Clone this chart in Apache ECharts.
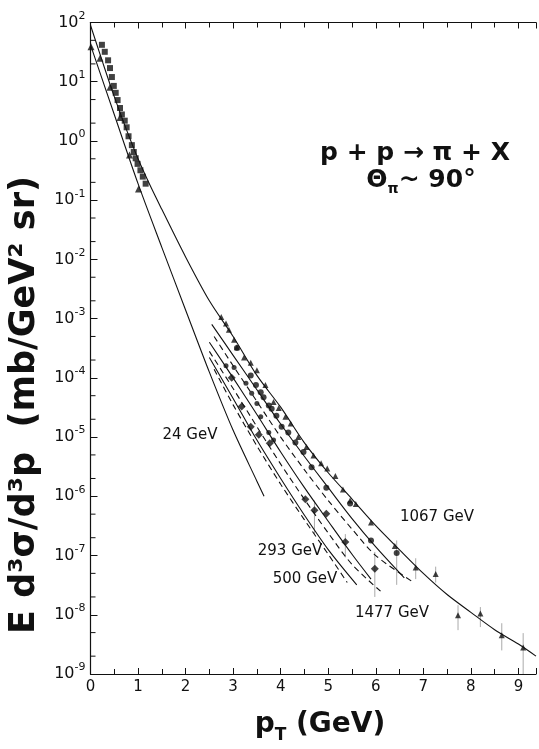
<!DOCTYPE html>
<html>
<head>
<meta charset="utf-8">
<script src="https://cdn.jsdelivr.net/npm/echarts@6/dist/echarts.min.js"></script>
<style>
  html, body { margin: 0; padding: 0; background: #fff; }
  #chart { width: 539px; height: 749px; }
</style>
</head>
<body>
<div id="chart"></div>
<script>
// p_T in GeV, invariant cross section in mb/GeV^2 sr
const fitHigh = [[0, 90], [0.25, 22], [0.5, 5.6], [0.75, 1.6], [1.0, 0.5], [1.25, 0.18], [1.5, 0.07],
  [2.0, 1.1e-2], [2.5, 2.0e-3], [3.0, 5.0e-4], [3.5, 1.1e-4], [4.0, 3.2e-5], [4.5, 8.0e-6],
  [5.0, 2.5e-6], [5.5, 9.0e-7], [6.0, 3.2e-7], [6.5, 1.25e-7], [7.0, 5.0e-8], [7.5, 2.2e-8],
  [8.0, 1.1e-8], [8.5, 5.6e-9], [9.0, 3.2e-9], [9.37, 2.0e-9]];
const fit24 = [[0, 42], [0.5, 2.8], [1.0, 0.19], [1.5, 1.6e-2], [2.0, 1.4e-3], [2.5, 1.25e-4],
  [3.0, 1.3e-5], [3.5, 1.8e-6], [3.65, 1.0e-6]];
const fitB = [[2.55, 8e-4], [3.0, 2.4e-4], [3.5, 6.3e-5], [4.0, 1.66e-5], [4.5, 4.7e-6], [5.0, 1.4e-6], [5.5, 4.2e-7], [6.0, 1.4e-7], [6.6, 4.2e-8]];
const fitC = [[2.6, 5e-4], [3.0, 1.6e-4], [3.5, 4.0e-5], [4.0, 1.0e-5], [4.5, 2.8e-6], [5.0, 8.5e-7], [5.5, 2.8e-7], [6.0, 1.0e-7], [6.8, 3.5e-8]];
const fitD = [[2.5, 4.0e-4], [3.0, 1.0e-4], [3.5, 2.4e-5], [4.0, 5.6e-6], [4.5, 1.4e-6], [5.0, 3.8e-7], [5.5, 1.05e-7], [5.9, 4.0e-8]];
const fitE = [[2.5, 2.8e-4], [3.0, 6.6e-5], [3.5, 1.5e-5], [4.0, 3.5e-6], [4.5, 8.9e-7], [5.0, 2.4e-7], [5.5, 7.1e-8], [6.1, 2.5e-8]];
const fitF = [[2.5, 2.2e-4], [3.0, 4.5e-5], [3.5, 8.9e-6], [4.0, 2.0e-6], [4.5, 4.8e-7], [5.0, 1.26e-7], [5.6, 3.2e-8]];
const fitG = [[2.6, 1.4e-4], [3.0, 3.5e-5], [3.5, 7.1e-6], [4.0, 1.6e-6], [4.5, 4.0e-7], [5.0, 1.05e-7], [5.4, 3.5e-8]];

const squaresLow = [[0.24, 42], [0.30, 32], [0.37, 23], [0.41, 17], [0.45, 12], [0.49, 8.5], [0.53, 6.5],
  [0.57, 4.9], [0.62, 3.6], [0.66, 2.8], [0.72, 2.2], [0.76, 1.7], [0.80, 1.2], [0.87, 0.85],
  [0.91, 0.65], [0.95, 0.51], [0.99, 0.41], [1.05, 0.32], [1.10, 0.25], [1.16, 0.19]];
const triangles24 = [[0.01, 39], [0.2, 25], [0.41, 8.1], [0.62, 2.5], [0.82, 0.58], [1.01, 0.155]];
const triUpper = [[2.75, 1.07e-3], [2.85, 8.3e-4], [2.91, 6.5e-4], [3.02, 4.4e-4], [3.08, 3.3e-4],
  [3.23, 2.2e-4], [3.37, 1.8e-4], [3.50, 1.35e-4], [3.68, 7.6e-5], [3.85, 3.9e-5], [3.96, 3.1e-5],
  [4.10, 2.2e-5], [4.21, 1.7e-5], [4.37, 1.0e-5], [4.54, 6.8e-6], [4.69, 4.9e-6], [4.85, 3.6e-6],
  [4.98, 2.95e-6], [5.15, 2.2e-6], [5.31, 1.3e-6], [5.46, 8.5e-7], [5.58, 7.4e-7], [5.9, 3.6e-7],
  [6.4, 1.45e-7], [6.84, 6.3e-8]];
const circles = [[3.08, 3.2e-4], [3.37, 1.1e-4], [3.48, 7.6e-5], [3.58, 5.7e-5], [3.64, 4.7e-5],
  [3.75, 3.4e-5], [3.81, 3.0e-5], [3.91, 2.3e-5], [4.02, 1.5e-5], [4.16, 1.2e-5], [4.31, 8.1e-6],
  [4.48, 5.6e-6], [4.65, 3.1e-6], [4.96, 1.4e-6], [5.46, 7.6e-7], [5.9, 1.8e-7], [6.44, 1.1e-7]];
const circlesLow = [[2.85, 1.6e-4], [3.02, 1.5e-4], [3.27, 8.1e-5], [3.39, 5.5e-5], [3.50, 3.7e-5],
  [3.58, 2.2e-5], [3.75, 1.2e-5], [3.85, 8.9e-6]];
const diamonds = [[2.97, 1.0e-4], [3.18, 3.3e-5], [3.37, 1.5e-5], [3.54, 1.1e-5], [3.77, 7.9e-6],
  [4.52, 8.9e-7], [4.71, 5.8e-7], [4.96, 5.1e-7], [5.36, 1.7e-7], [5.98, 6.0e-8]];
const triHigh = [[7.26, 4.9e-8], [7.73, 9.8e-9], [8.2, 1.05e-8], [8.65, 4.5e-9], [9.1, 2.8e-9]];
// vertical error bars: [p_T, low, high]
const errBars = [[4.71, 2.3e-7, 8.5e-7], [5.36, 9.3e-8, 2.3e-7], [5.98, 2.0e-8, 1.15e-7],
  [6.44, 3.2e-8, 1.8e-7], [6.84, 4.0e-8, 9.0e-8], [7.26, 3.5e-8, 6.5e-8], [7.73, 5.5e-9, 1.45e-8],
  [8.2, 6.2e-9, 1.35e-8], [8.65, 2.5e-9, 7.2e-9], [9.1, 1.0e-9, 4.9e-9]];

const decades = [-9, -8, -7, -6, -5, -4, -3, -2, -1, 0, 1, 2];

const lg = arr => arr.map(p => [p[0], Math.log10(p[1])]);
const lgErr = arr => arr.map(p => [p[0], Math.log10(p[1]), Math.log10(p[2])]);

// minor ticks at 2 and 5 of every decade
const minorTicks = [];
decades.forEach(d => { if (d < 2) { minorTicks.push([0, d + Math.log10(2)], [0, d + Math.log10(5)]); } });

const chart = echarts.init(document.getElementById('chart'));
const FONT = 'DejaVu Sans';
const INK = '#111';

function line(data, dashed) {
  return {
    type: 'line', data: lg(data), showSymbol: false, smooth: 0.3, silent: true,
    lineStyle: { color: INK, width: 1.1, type: dashed ? [6, 4] : 'solid' }
  };
}
function dots(data, symbol, size, rotate) {
  return {
    type: 'scatter', data: lg(data), symbol: symbol, symbolSize: size, symbolRotate: rotate || 0,
    itemStyle: { color: INK }
  };
}
function label(text, x, y) {
  return { type: 'text', x: x, y: y,
    style: { text: text, font: '15px "DejaVu Sans"', fill: INK, textAlign: 'center', textVerticalAlign: 'middle' } };
}

const xCommon = {
  type: 'value', min: 0, max: 9.37, interval: 1,
  axisLine: { onZero: false, lineStyle: { color: INK, width: 1.2 } },
  axisTick: { inside: true, length: 6, lineStyle: { color: INK } },
  minorTick: { show: true, splitNumber: 2, length: 5, lineStyle: { color: INK } },
  splitLine: { show: false }
};

chart.setOption({
  animation: false,
  backgroundColor: '#fff',
  grid: { left: 90.5, right: 0, top: 22.5, bottom: 75 },
  xAxis: [Object.assign({}, xCommon, {
    position: 'bottom',
    axisLabel: { color: INK, fontFamily: FONT, fontSize: 15, margin: 6,
      formatter: v => (v === Math.round(v) && v <= 9 ? String(v) : '') }
  }), Object.assign({}, xCommon, {
    position: 'top', axisLabel: { show: false }
  })],
  yAxis: {
    type: 'value', min: -9, max: 2, interval: 1,
    axisLine: { show: true, onZero: false, lineStyle: { color: INK, width: 1.2 } },
    axisTick: { show: true, inside: true, length: 7, lineStyle: { color: INK } },
    axisLabel: {
      color: INK, fontFamily: FONT, margin: 5,
      formatter: v => '{b|10}{s|' + String(v) + '}',
      rich: {
        b: { fontSize: 16, lineHeight: 24, fontFamily: FONT, color: INK },
        s: { fontSize: 11, lineHeight: 14, verticalAlign: 'top', fontFamily: FONT, color: INK }
      }
    },
    splitLine: { show: false }
  },
  graphic: [
    { type: 'text', x: 25, y: 405, rotation: Math.PI / 2,
      style: { text: 'E d³σ/d³p  (mb/GeV² sr)', font: 'bold 35px "DejaVu Sans"', fill: INK,
        textAlign: 'center', textVerticalAlign: 'middle' } },
    { type: 'text', x: 320, y: 725,
      style: { text: '{a|p}{t|T}{a| (GeV)}', textAlign: 'center', textVerticalAlign: 'middle',
        rich: { a: { font: 'bold 28px "DejaVu Sans"', fill: INK, lineHeight: 38 },
                t: { font: 'bold 17px "DejaVu Sans"', fill: INK, lineHeight: 17, verticalAlign: 'bottom' } } } },
    { type: 'text', x: 415, y: 153,
      style: { text: 'p + p → π + X', font: 'bold 25px "DejaVu Sans"', fill: INK,
        textAlign: 'center', textVerticalAlign: 'middle' } },
    { type: 'text', x: 421, y: 180,
      style: { text: '{a|Θ}{t|π}{a|~ 90°}', textAlign: 'center', textVerticalAlign: 'middle',
        rich: { a: { font: 'bold 25px "DejaVu Sans"', fill: INK, lineHeight: 32 },
                t: { font: 'bold 14px "DejaVu Sans"', fill: INK, lineHeight: 14, verticalAlign: 'bottom' } } } },
    label('24 GeV', 190, 435),
    label('1067 GeV', 437, 517),
    label('293 GeV', 290, 551),
    label('500 GeV', 305, 579),
    label('1477 GeV', 392, 613)
  ],
  series: [
    {
      type: 'custom', silent: true, data: minorTicks,
      renderItem: (params, api) => {
        const p = api.coord([api.value(0), api.value(1)]);
        return { type: 'line', shape: { x1: p[0], y1: p[1], x2: p[0] + 5, y2: p[1] },
          style: { stroke: INK, lineWidth: 1 } };
      }
    },
    {
      type: 'custom', silent: true, data: lgErr(errBars),
      renderItem: (params, api) => {
        const lo = api.coord([api.value(0), api.value(1)]);
        const hi = api.coord([api.value(0), api.value(2)]);
        return { type: 'line', shape: { x1: lo[0], y1: lo[1], x2: hi[0], y2: hi[1] },
          style: { stroke: '#aaa', lineWidth: 1 } };
      }
    },
    line(fitHigh, false),
    line(fit24, false),
    line(fitB, false),
    line(fitC, true),
    line(fitD, false),
    line(fitE, true),
    line(fitF, false),
    line(fitG, true),
    dots(squaresLow, 'rect', 6),
    dots(triangles24, 'triangle', 7),
    dots(triUpper, 'triangle', 6),
    dots(circles, 'circle', 6),
    dots(circlesLow, 'circle', 5),
    dots(diamonds, 'diamond', 8),
    dots(triHigh, 'triangle', 6)
  ]
});
</script>
</body>
</html>
